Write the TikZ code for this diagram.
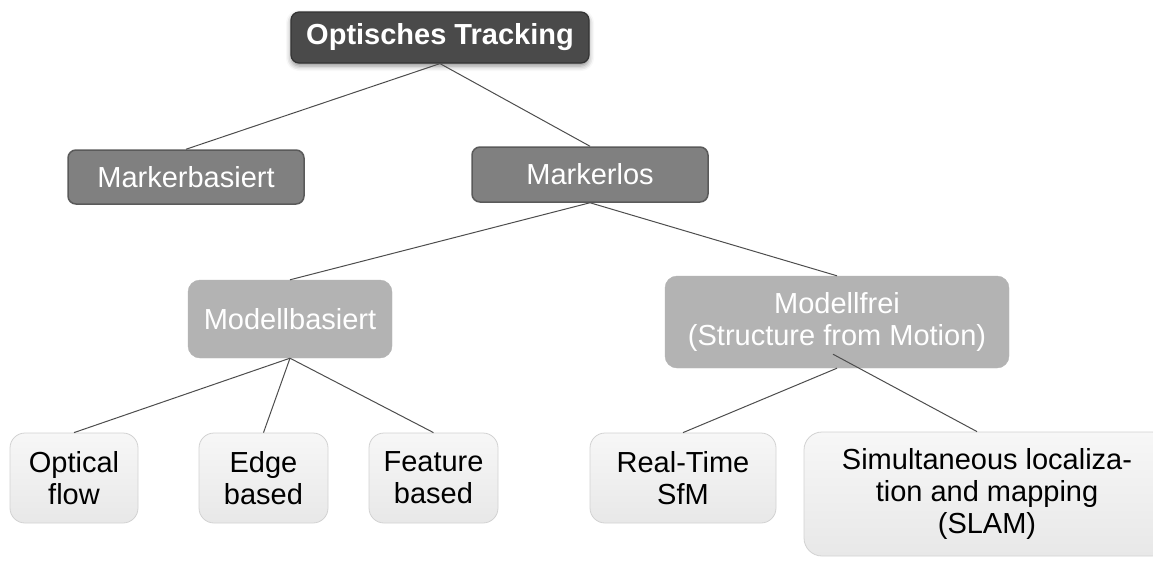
\documentclass[tikz,border=0pt]{standalone}
\usepackage{fontspec}
\setmainfont{Liberation Sans}
\usetikzlibrary{shadows.blur,calc}

\definecolor{topfill}{HTML}{4A4A4A}
\definecolor{topedge}{HTML}{333333}
\definecolor{midfill}{HTML}{808080}
\definecolor{midedge}{HTML}{5A5A5A}
\definecolor{lowfill}{HTML}{B3B3B3}
\definecolor{leaftop}{HTML}{F7F7F7}
\definecolor{leafbot}{HTML}{E8E8E8}
\definecolor{leafedge}{HTML}{D2D2D2}
\definecolor{linkcol}{HTML}{4D4D4D}

\tikzset{
  box/.style={rectangle, inner sep=0pt, align=center,
    font=\fontsize{29pt}{32pt}\selectfont},
  rootbox/.style={box, fill=topfill, draw=topedge, line width=1.2pt,
    rounded corners=8pt, text=white, font=\fontsize{29pt}{32pt}\selectfont\bfseries,
    blur shadow={shadow xshift=0pt, shadow yshift=-3pt,
      shadow blur radius=5pt, shadow opacity=45}},
  levelone/.style={box, fill=midfill, draw=midedge, line width=1.5pt,
    rounded corners=8pt, text=white},
  leveltwo/.style={box, fill=lowfill, draw=lowfill,
    rounded corners=12pt, text=white},
  leafbox/.style={box, top color=leaftop, bottom color=leafbot,
    draw=leafedge, line width=0.8pt, rounded corners=15pt, text=black},
  link/.style={draw=linkcol, line width=1pt},
}

\begin{document}
\begin{tikzpicture}[x=1pt, y=-1pt]
\useasboundingbox (0,0) rectangle (1153,560);

% hierarchy of the boxes
\node[rootbox, minimum width=298pt, minimum height=51pt]
  (root) at (440,37.5) {Optisches Tracking};

\node[levelone, minimum width=236pt, minimum height=54pt]
  (mb) at (186,177) {Markerbasiert};
\node[levelone, minimum width=236pt, minimum height=55pt]
  (ml) at (590,174.5) {Markerlos};

\node[leveltwo, minimum width=204pt, minimum height=78pt]
  (mob) at (290,319) {Modellbasiert};
\node[leveltwo, minimum width=344pt, minimum height=92pt]
  (mf) at (837,322) {Modellfrei\\(Structure from Motion)};

\node[leafbox, minimum width=128pt, minimum height=90pt]
  (of) at (74,478) {Optical\\flow};
\node[leafbox, minimum width=129pt, minimum height=90pt]
  (eb) at (263.5,478) {Edge\\based};
\node[leafbox, minimum width=129pt, minimum height=90pt]
  (fb) at (433.5,478) {Feature\\based};
\node[leafbox, minimum width=186pt, minimum height=90pt]
  (rt) at (683,478) {Real-Time\\SfM};
\node[leafbox, minimum width=366pt, minimum height=124pt, rounded corners=18pt]
  (sl) at (987,494) {Simultaneous localiza-\\tion and mapping\\(SLAM)};

% connectors
\coordinate (mfinner) at ($(mf.south)+(-4,-14)$);
\coordinate (sltop) at ($(sl.north)+(-10,0)$);

\draw[link] (root.south) -- (mb.north);
\draw[link] (root.south) -- (ml.north);
\draw[link] (ml.south) -- (mob.north);
\draw[link] (ml.south) -- (mf.north);
\draw[link] (mob.south) -- (of.north);
\draw[link] (mob.south) -- (eb.north);
\draw[link] (mob.south) -- (fb.north);
\draw[link] (mf.south) -- (rt.north);
\draw[link] (mfinner) -- (sltop);
\end{tikzpicture}
\end{document}
